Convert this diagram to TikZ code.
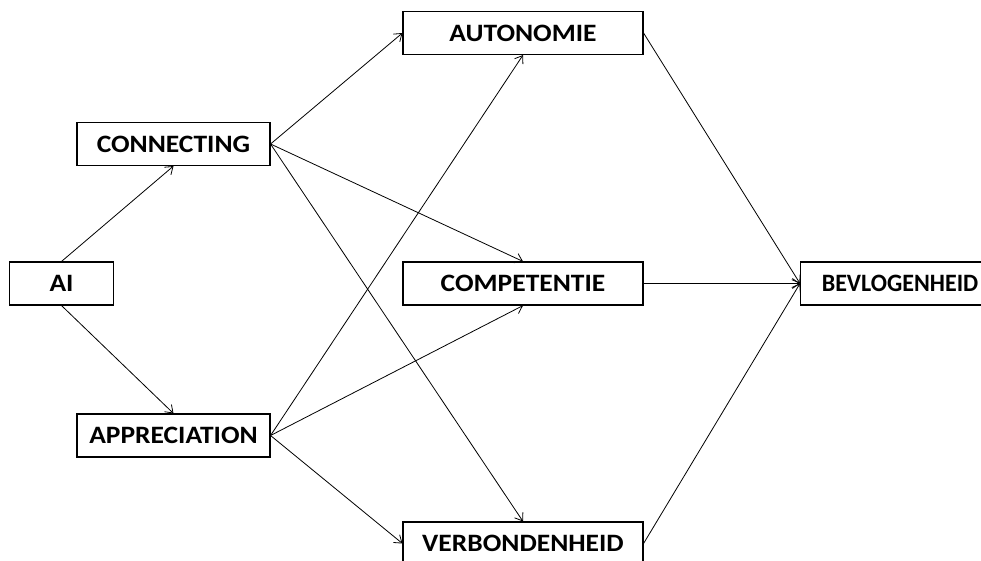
\documentclass[tikz,border=0pt]{standalone}
\usepackage{fontspec}
\setmainfont{Carlito}
\usetikzlibrary{arrows.meta}
\newcommand{\wtxt}[2][1.1]{\scalebox{#1}[1]{#2}}
\begin{document}
\begin{tikzpicture}[x=1pt,y=-1pt,
  box/.style={draw, line width=1.1pt, rectangle, inner sep=0pt, minimum height=43pt,
    font=\fontsize{25}{29}\selectfont\bfseries},
  arr/.style={line width=0.8pt, -{Straight Barb[length=7pt,width=10pt]}}]
\useasboundingbox (0,0) rectangle (981,561);
\fill[white] (0,0) rectangle (981,561);
\node[box, minimum width=104pt] (ai) at (61.5,283.5) {\wtxt{AI}};
\node[box, minimum width=193pt] (con) at (173.5,144) {\wtxt{CONNECTING}};
\node[box, minimum width=193pt] (app) at (173.5,435.5) {\wtxt{APPRECIATION}};
\node[box, minimum width=240pt] (aut) at (523,33) {\wtxt{AUTONOMIE}};
\node[box, minimum width=240pt] (com) at (523,283.5) {\wtxt{COMPETENTIE}};
\node[box, minimum width=240pt] (ver) at (523,543.5) {\wtxt{VERBONDENHEID}};
\node[box, minimum width=190pt, anchor=west] (bev) at (800,283.5) {\hspace{9pt}\wtxt[0.96]{BEVLOGENHEID}\hspace{12pt}};
\draw[arr] (ai.north) -- (con.south);
\draw[arr] (ai.south) -- (app.north);
\draw[arr] (con.east) -- (aut.west);
\draw[arr] (con.east) -- (com.north);
\draw[arr] (con.east) -- (ver.north);
\draw[arr] (app.east) -- (aut.south);
\draw[arr] (app.east) -- (com.south);
\draw[arr] (app.east) -- (ver.west);
\draw[arr] (aut.east) -- (bev.west);
\draw[arr] (com.east) -- (bev.west);
\draw[arr] (ver.east) -- (bev.west);
\end{tikzpicture}
\end{document}
